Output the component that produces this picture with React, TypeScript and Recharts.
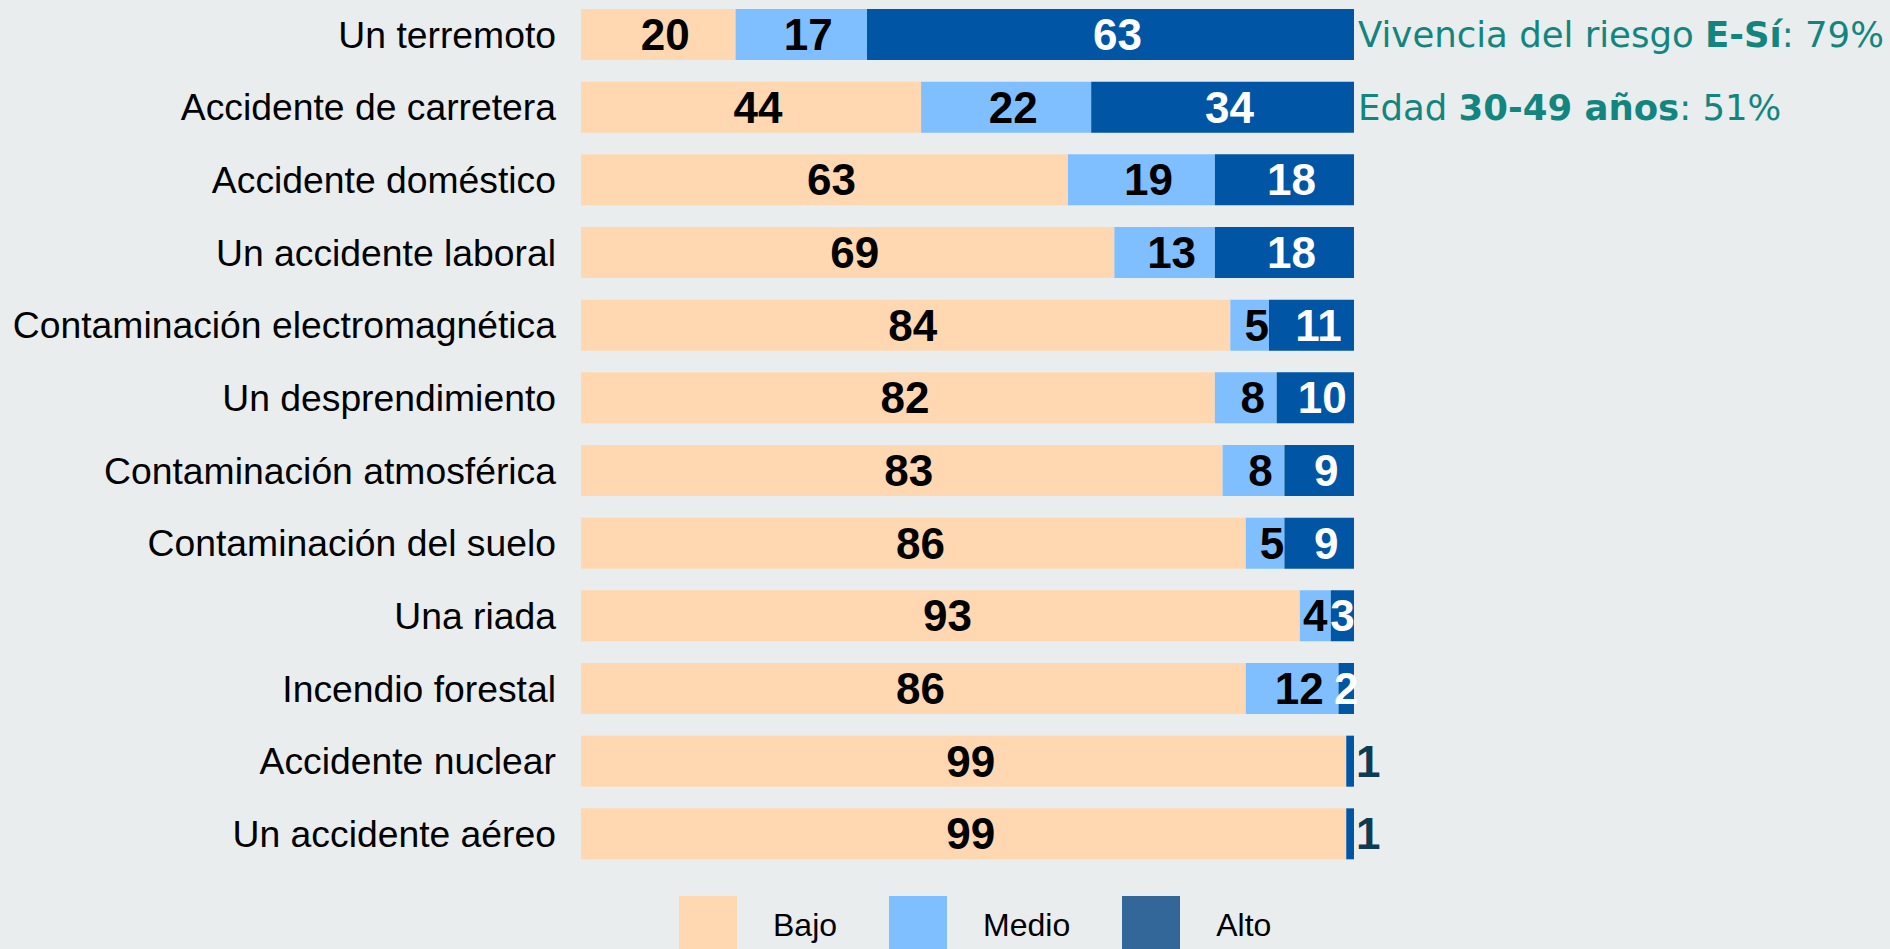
import React from 'react';
import { BarChart, Bar, XAxis, YAxis, LabelList } from 'recharts';

const categories = [
  'Un terremoto',
  'Accidente de carretera',
  'Accidente doméstico',
  'Un accidente laboral',
  'Contaminación electromagnética',
  'Un desprendimiento',
  'Contaminación atmosférica',
  'Contaminación del suelo',
  'Una riada',
  'Incendio forestal',
  'Accidente nuclear',
  'Un accidente aéreo',
];
const bajo = [20, 44, 63, 69, 84, 82, 83, 86, 93, 86, 99, 99];
const medio = [17, 22, 19, 13, 5, 8, 8, 5, 4, 12, 0, 0];
const alto = [63, 34, 18, 18, 11, 10, 9, 9, 3, 2, 1, 1];
const seriesNames = ['Bajo', 'Medio', 'Alto'];

const data = categories.map((name, i) => ({ name, bajo: bajo[i], medio: medio[i], alto: alto[i] }));

const BG = '#E9EDEE';
const TEAL = '#12857F';
const FONT = "'Liberation Sans', Arial, sans-serif";
const barColors = ['#FFD8B1', '#80BFFF', '#0055A5'];
const legendColors = ['#FFD8B1', '#80BFFF', '#336699'];

const makeLabel = (fill: string, isAlto = false) => (props: any) => {
  const x = Number(props.x);
  const y = Number(props.y);
  const width = Number(props.width);
  const height = Number(props.height);
  const value = Number(props.value);
  if (!value) return null;
  const outside = isAlto && value <= 1;
  const shift = width > 35 ? 7 : 0;
  return (
    <text
      x={outside ? x + width + 2 : x + width / 2 + shift}
      y={y + height / 2}
      textAnchor={outside ? 'start' : 'middle'}
      dominantBaseline="central"
      fill={outside ? '#0D3B52' : fill}
      fontSize={44}
      fontWeight="bold"
      fontFamily={FONT}
    >
      {value}
    </text>
  );
};

export default function App() {
  return (
    <div style={{ position: 'absolute', left: 0, top: 0, width: 1890, height: 949, background: BG, overflow: 'hidden' }}>
      <BarChart
        width={1890}
        height={949}
        data={data}
        layout="vertical"
        barSize={51}
        margin={{ top: -2, right: 536, bottom: 79, left: 0 }}
      >
        <XAxis type="number" domain={[0, 100]} hide />
        <YAxis
          type="category"
          dataKey="name"
          width={581}
          interval={0}
          tickLine={false}
          axisLine={false}
          tickMargin={19}
          tick={{ fill: '#000', fontSize: 37.3, fontFamily: FONT }}
        />
        <Bar dataKey="bajo" stackId="a" fill={barColors[0]} isAnimationActive={false}>
          <LabelList dataKey="bajo" content={makeLabel('#000')} />
        </Bar>
        <Bar dataKey="medio" stackId="a" fill={barColors[1]} isAnimationActive={false}>
          <LabelList dataKey="medio" content={makeLabel('#000')} />
        </Bar>
        <Bar dataKey="alto" stackId="a" fill={barColors[2]} isAnimationActive={false}>
          <LabelList dataKey="alto" content={makeLabel('#fff', true)} />
        </Bar>
      </BarChart>

      <div style={{ position: 'absolute', left: 1358, top: 12, color: TEAL, fontSize: 35.5, fontFamily: "'DejaVu Sans', sans-serif", whiteSpace: 'nowrap', lineHeight: '46px' }}>
        Vivencia del riesgo <b>E-Sí</b>: 79%
      </div>
      <div style={{ position: 'absolute', left: 1358, top: 85, color: TEAL, fontSize: 35.5, fontFamily: "'DejaVu Sans', sans-serif", whiteSpace: 'nowrap', lineHeight: '46px' }}>
        Edad <b>30-49 años</b>: 51%
      </div>

      <div style={{ position: 'absolute', left: 679, top: 896, display: 'flex', alignItems: 'center', gap: 52 }}>
        {seriesNames.map((s, i) => (
          <div key={s} style={{ display: 'flex', alignItems: 'center' }}>
            <div style={{ width: 58, height: 58, background: legendColors[i], marginRight: 36 }} />
            <span style={{ fontSize: 32, fontFamily: FONT, color: '#000' }}>{s}</span>
          </div>
        ))}
      </div>
    </div>
  );
}
